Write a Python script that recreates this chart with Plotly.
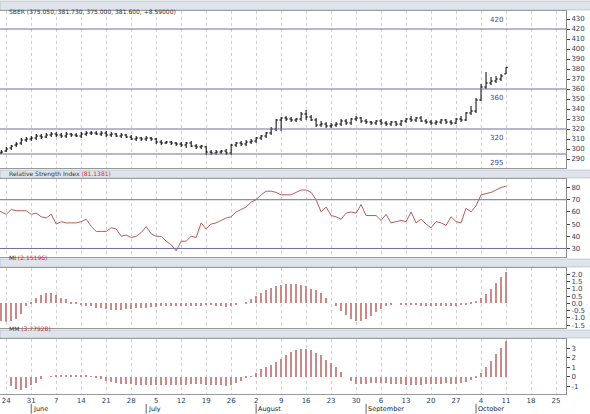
import pandas as pd
import plotly.graph_objects as go
from plotly.subplots import make_subplots

open_ = [296,
298,301,304,306,309, 310,311,313,312,314, 315,314,313,315,314, 313,315,316,316,315,
316,314,315,313,314, 312,310,311,310,311, 310,307,306,307,306, 305,304,306,303,302,
302,297,296,297,298, 296,304,306,305,307, 308,311,313,316,320, 329,331,330,329,330,
335,332,329,324,325, 323,324,325,328,326, 330,331,328,327,326, 328,326,325,327,325,
328,330,329,331,328, 327,326,327,329,327, 326,330,329,336,338, 349,362,366,368,370,
375.05]
high = [299,
302,304,307,311,312, 313,315,315,316,317, 317,316,317,316,316, 317,318,318,318,318,
318,317,316,316,315, 314,313,312,313,312, 311,309,308,308,307, 307,307,308,305,304,
303,299,299,299,300, 305,307,308,309,310, 312,314,317,322,330, 332,333,332,331,337,
339,334,331,328,327, 326,327,330,330,331, 333,332,330,328,329, 330,328,328,328,329,
331,333,332,333,330, 329,329,330,330,329, 331,333,337,343,351, 365,377,372,373,375,
381.73]
low = [295,
297,299,302,304,307, 308,309,310,311,312, 312,311,311,312,312, 311,313,314,314,313,
312,312,312,311,311, 309,308,308,308,308, 305,304,305,304,303, 302,301,302,300,300,
294,294,294,295,294, 294,302,303,303,305, 306,309,311,314,318, 318,328,327,327,328,
329,328,322,322,321, 321,322,323,324,324, 328,326,325,324,324, 324,323,323,323,323,
326,327,327,327,325, 324,324,325,325,324, 325,327,328,334,336, 348,360,364,366,368,
375]
close = [297,
300,303,305,309,310, 311,313,312,314,315, 314,313,315,314,313, 315,316,316,315,316,
314,315,313,314,312, 310,311,310,311,310, 307,306,307,306,305, 304,306,303,302,303,
297,296,297,298,296, 304,306,305,307,308, 311,313,316,320,329, 331,330,329,330,335,
332,329,324,325,323, 324,325,328,326,330, 331,328,327,326,328, 326,325,327,325,328,
330,329,331,328,327, 326,327,329,327,326, 330,329,336,338,349, 362,366,368,370,373,
381.6]
rsi = [50,52,52,57,58,62,58,59,60,62,60,58,62,61,61,61,58,59,56,55,58,50,52,51,51,51,52,54,
48,44,44,44,47,46,40,41,39,40,43,48,42,40,40,36,33,28,36,36,40,39,51,46,50,51,53,55,56,
60,62,64,68,70,74,77,77,76,74,74,74,76,78,78,76,70,60,64,57,56,54,59,60,59,66,57,57,57,
53,58,51,52,53,52,60,51,54,50,47,52,51,49,56,52,51,63,60,65,74,75,76,78,80,81.14]
mi = [-1.0,-1.2,-1.3,-1.25,-1.05,-0.7,-0.2,0.05,0.4,0.6,0.7,0.7,0.6,0.4,0.3,0.1,0.05,-0.1,
-0.15,-0.2,-0.3,-0.35,-0.4,-0.45,-0.45,-0.45,-0.4,-0.4,-0.35,-0.35,-0.3,-0.25,-0.25,-0.2,
-0.2,-0.2,-0.2,-0.2,-0.15,-0.15,-0.15,-0.15,-0.1,-0.1,-0.15,-0.2,-0.25,-0.2,-0.1,0.0,0.1,
0.3,0.5,0.7,0.9,1.1,1.2,1.3,1.35,1.35,1.35,1.3,1.2,1.0,0.9,0.7,0.4,0.0,-0.2,-0.5,-0.8,-1.1,
-1.25,-1.2,-1.1,-0.9,-0.6,-0.4,-0.2,-0.1,0.0,-0.05,-0.05,-0.1,-0.1,-0.15,-0.15,-0.2,-0.2,
-0.2,-0.2,-0.2,-0.15,-0.1,-0.05,0.05,0.2,0.4,0.65,1.0,1.4,1.8,2.15]
mm = [-1.0,-1.3,-1.4,-1.2,-0.9,-0.6,-0.2,0.0,0.05,0.1,0.15,0.2,0.2,0.2,0.15,0.1,0.05,-0.1,
-0.2,-0.4,-0.5,-0.6,-0.7,-0.7,-0.75,-0.8,-0.8,-0.8,-0.85,-0.85,-0.9,-0.9,-0.9,-0.9,-0.85,
-0.8,-0.75,-0.7,-0.7,-0.8,-0.85,-0.9,-0.9,-0.95,-0.9,-0.6,-0.4,-0.1,0.05,0.4,0.8,1.1,1.3,
1.6,1.9,2.3,2.6,2.85,2.95,2.95,2.8,2.5,2.3,1.8,1.5,1.0,0.5,0.0,-0.4,-0.7,-0.75,-0.7,-0.65,
-0.65,-0.6,-0.65,-0.7,-0.7,-0.75,-0.8,-0.8,-0.8,-0.8,-0.75,-0.75,-0.7,-0.7,-0.65,-0.7,
-0.7,-0.6,-0.5,-0.3,-0.1,0.4,1.0,1.7,2.4,3.1,3.77]
price_levels = [420, 360, 320, 295]
rsi_levels = [70, 30]
months = ["June", "July", "August", "September", "October"]
month_starts = ["2010-05-31", "2010-07-01", "2010-08-02", "2010-09-01", "2010-10-01"]

END = "2010-10-11"
def dates(n):
    return pd.bdate_range(end=END, periods=n)

LINE = "#6e6e9e"
IND = "#c98a8a"
fig = make_subplots(rows=4, cols=1, shared_xaxes=True)
fig.add_trace(go.Ohlc(x=dates(len(close)), open=open_, high=high, low=low, close=close,
                      increasing_line_color="black", decreasing_line_color="black",
                      line_width=1, tickwidth=0.35), 1, 1)
fig.add_trace(go.Scatter(x=dates(len(rsi)), y=rsi, mode="lines",
                         line=dict(color="#b85c5c", width=1)), 2, 1)
fig.add_trace(go.Bar(x=dates(len(mi)), y=mi, marker_color=IND, marker_line_width=0, width=86400000*0.35), 3, 1)
fig.add_trace(go.Bar(x=dates(len(mm)), y=mm, marker_color=IND, marker_line_width=0, width=86400000*0.35), 4, 1)

H = 394.0
def dom(top, bot):
    return [(H - bot) / H, (H - top) / H]
doms = [dom(11, 168), dom(179, 257), dom(268, 328), dom(339, 394)]
heads = [(1, 10, "SBER ", "(375.050, 381.730, 375.000, 381.600, +8.59000)", "#333333"),
         (170, 178, "Relative Strength Index ", "(81.1381)", "#cc3333"),
         (259, 267, "MI ", "(2.15196)", "#cc3333"),
         (330, 338, "MM ", "(3.77928)", "#cc3333")]
yr = [[281, 438], [23, 87], [-1.7, 2.45], [-1.8, 4.0]]
ytv = [list(range(290, 431, 10)), list(range(30, 81, 10)),
       [-1.5, -1, -0.5, 0, 0.5, 1, 1.5, 2], [-1, 0, 1, 2, 3]]
ytt = [[str(v) for v in range(290, 431, 10)], [str(v) for v in range(30, 81, 10)],
       ["-1.5", "-1.0", "-0.5", "0.0", "0.5", "1.0", "1.5", "2.0"], ["-1", "0", "1", "2", "3"]]
xr = ["2010-05-20 18:00", "2010-10-27"]
mondays = pd.date_range("2010-05-24", "2010-10-25", freq="7D")
for i in range(4):
    n = "" if i == 0 else str(i + 1)
    fig.layout["yaxis" + n].update(domain=doms[i], range=yr[i], side="right", showgrid=False,
        tickvals=ytv[i], ticktext=ytt[i], ticks="outside", ticklen=3, tickfont=dict(size=7),
        zeroline=False, showline=True, linecolor="#888", mirror=False, fixedrange=True,
        automargin=False)
    fig.layout["xaxis" + n].update(range=xr, showgrid=True, gridcolor="#d0d0d0", griddash="dot",
        tickvals=mondays, ticktext=[str(d.day) for d in mondays], showticklabels=(i == 3),
        tickfont=dict(size=7), ticks="", showline=True, linecolor="#999", mirror=True,
        rangeslider=dict(visible=False), rangebreaks=[dict(bounds=["sat", "mon"])])
    t, b, name, val, col = heads[i]
    fig.add_shape(type="rect", xref="paper", yref="paper", x0=0, x1=1.045,
                  y0=(H - b) / H, y1=(H - t) / H, fillcolor="#dfe4ec", line=dict(color="#9aa", width=0.5))
    fig.add_annotation(xref="paper", yref="paper", x=0.012, y=(H - (t + b) / 2) / H,
                       text=name + "<span style='color:%s'>%s</span>" % (col, val), showarrow=False,
                       xanchor="left", font=dict(size=6, color="#333"))
for lv in price_levels:
    fig.add_hline(y=lv, line=dict(color=LINE, width=1), row=1, col=1)
    fig.add_annotation(x="2010-10-07", y=lv, yshift=-9 if lv != 420 else 9, text=str(lv),
                       showarrow=False, font=dict(size=7, color="#44449a"), row=1, col=1)
for lv in rsi_levels:
    fig.add_hline(y=lv, line=dict(color=LINE, width=1), row=2, col=1)
for m, d in zip(months, month_starts):
    fig.add_annotation(x=d, xref="x4", yref="paper", y=-0.024, text=m, showarrow=False,
                       xanchor="left", yanchor="top", font=dict(size=6.5, color="#222"))
    fig.add_shape(type="line", x0=d, x1=d, xref="x4", yref="paper", y0=-0.025, y1=-0.05,
                  line=dict(color="#666", width=1))
fig.update_layout(width=590, height=414, margin=dict(l=0, r=24, t=0, b=20),
                  paper_bgcolor="#ffffff", plot_bgcolor="#ffffff", showlegend=False,
                  bargap=0, font=dict(family="DejaVu Sans"))
fig.write_html("out.html", config={"displayModeBar": False},
               post_script="document.body.style.margin='0';document.body.style.overflow='hidden';")
